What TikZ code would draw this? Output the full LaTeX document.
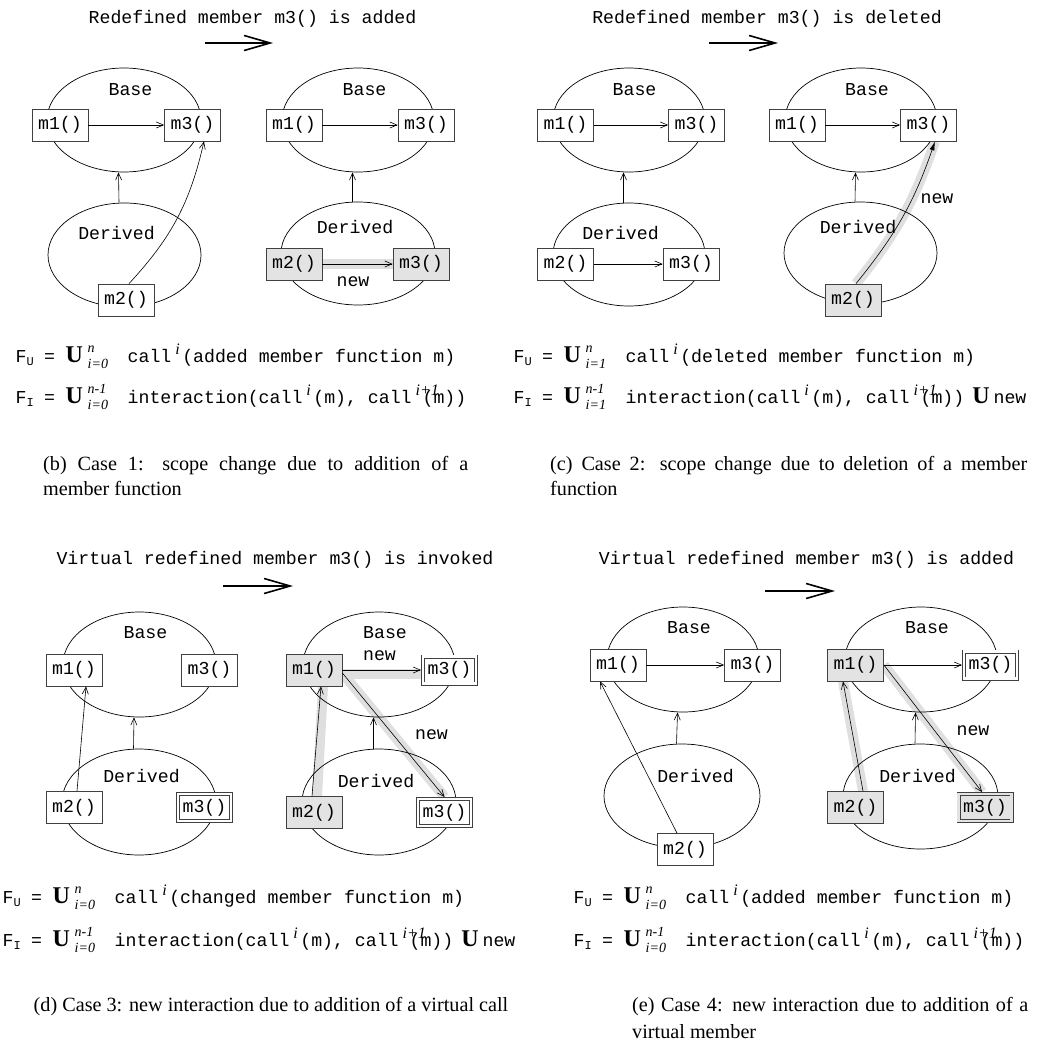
\documentclass[tikz,border=0pt]{standalone}
\usepackage{fontspec}
\setmainfont{Liberation Serif}
\setmonofont{Liberation Mono}
\usetikzlibrary{positioning, arrows.meta, shapes.geometric, backgrounds}

\newcommand{\mono}{\ttfamily\fontsize{18.2}{22}\selectfont}
\newcommand{\capfont}{\rmfamily\fontsize{20.2}{25}\selectfont}
\newcommand{\fsub}[1]{\raisebox{-3pt}{\fontsize{12}{12}\selectfont #1}}
\newcommand{\bigU}{{\rmfamily\bfseries\fontsize{24}{24}\selectfont U}}
\newcommand{\lims}[2]{\rlap{\raisebox{10pt}{\fontsize{14}{14}\selectfont\rmfamily\itshape #1}}\raisebox{-6pt}{\fontsize{14}{14}\selectfont\rmfamily\itshape #2}}
\newcommand{\callsup}[1]{\rlap{\hspace{4pt}\raisebox{8pt}{\fontsize{16}{16}\selectfont\rmfamily\itshape #1}}}
\newcommand{\fhead}[3]{\makebox[28.5pt][l]{F\fsub{#1}}\makebox[21.5pt][l]{=}\makebox[22pt][l]{\bigU}\makebox[40pt][l]{\lims{#2}{#3}}}

\tikzset{
	cls/.style={ellipse, draw, line width=0.7pt, inner sep=0pt},
	fn/.style={draw=black!75, fill=white, line width=0.8pt, minimum width=56pt, minimum height=32pt, inner sep=0pt, font=\mono},
	fnnew/.style={fn, fill=gray!22},
	vfn/.style={fn, double=white, double distance=2.4pt, minimum width=53pt, minimum height=27pt, outer sep=2pt},
	vfnnew/.style={vfn, fill=gray!22, double=gray!22},
	txt/.style={font=\mono, inner sep=0pt, anchor=base},
	fml/.style={font=\mono, inner sep=0pt, anchor=base west},
	captxt/.style={font=\capfont, inner sep=0pt, anchor=base west},
	calls/.style={-{Straight Barb[length=7pt, width=6pt]}, line width=0.6pt},
	newcall/.style={-{Latex[length=9pt, width=5pt]}, line width=0.6pt},
	hilite/.style={line width=10pt, gray!25},
	bigarrow/.style={-{Straight Barb[length=26pt, width=15pt]}, line width=1.6pt},
}

\begin{document}
\begin{tikzpicture}[x=1pt, y=-1pt]
	\useasboundingbox (0,0) rectangle (1064,1044);

	\node[txt] (ttlb) at (252.5,23) {Redefined member m3() is added};
	\coordinate (arbs) at (205,43);
	\coordinate (arbe) at (273,43);
	\draw[bigarrow] (arbs) -- (arbe);
	\node[cls, minimum width=154pt, minimum height=104pt] (blB) at (124,120) {};
	\node[txt] (blBt) at (130.5,95) {Base};
	\node[fn] (bl1) at (60,125) {m1()};
	\node[fn] (bl3) at (192.5,125) {m3()};
	\node[cls, minimum width=153pt, minimum height=104pt] (blD) at (124.5,255) {};
	\node[txt] (blDt) at (116.5,239) {Derived};
	\node[fn] (bl2) at (126,300) {m2()};
	\draw[calls] (bl1) -- (bl3);
	\draw[calls] ([xshift=-5.5pt]blD.north) -- ([xshift=-5.5pt]blB.south);
	\draw[calls] ([xshift=3pt]bl2.north) to[bend right=15] ([xshift=11.5pt]bl3.south);

	\node[cls, minimum width=152pt, minimum height=104pt] (brB) at (358,120) {};
	\node[txt] (brBt) at (364.5,95) {Base};
	\node[fn] (br1) at (294,125) {m1()};
	\node[fn] (br3) at (426,125) {m3()};
	\node[cls, minimum width=154pt, minimum height=103pt] (brD) at (358,253.5) {};
	\node[txt] (brDt) at (355,233) {Derived};
	\node[fnnew] (br2) at (294,264) {m2()};
	\node[fnnew] (br3d) at (421,264) {m3()};
	\node[txt] (brnew) at (353,286) {new};
	\begin{pgfonlayer}{background}
		\draw[hilite] (br2) -- (br3d);
	\end{pgfonlayer}
	\draw[calls] (br1) -- (br3);
	\draw[calls] ([xshift=-5.5pt]brD.north) -- ([xshift=-5.5pt]brB.south);
	\draw[calls] (br2) -- (br3d);

	\node[txt] (ttlc) at (767,23) {Redefined member m3() is deleted};
	\coordinate (arcs) at (709,43);
	\coordinate (arce) at (778,43);
	\draw[bigarrow] (arcs) -- (arce);
	\node[cls, minimum width=152pt, minimum height=104pt] (clB) at (629,120) {};
	\node[txt] (clBt) at (634.5,95) {Base};
	\node[fn] (cl1) at (565.5,125) {m1()};
	\node[fn] (cl3) at (696.5,125) {m3()};
	\node[cls, minimum width=152pt, minimum height=103pt] (clD) at (629,254.5) {};
	\node[txt] (clDt) at (620.5,239) {Derived};
	\node[fn] (cl2) at (565.5,264) {m2()};
	\node[fn] (cl3d) at (691,264) {m3()};
	\draw[calls] (cl1) -- (cl3);
	\draw[calls] ([xshift=-5.5pt]clD.north) -- ([xshift=-5.5pt]clB.south);
	\draw[calls] (cl2) -- (cl3d);

	\node[cls, minimum width=152pt, minimum height=104pt] (crB) at (861,120) {};
	\node[txt] (crBt) at (867,95) {Base};
	\node[fn] (cr1) at (797,125) {m1()};
	\node[fn] (cr3) at (928.5,125) {m3()};
	\node[cls, minimum width=153pt, minimum height=102pt] (crD) at (860.5,253) {};
	\node[txt] (crDt) at (858,233) {Derived};
	\node[fnnew] (cr2) at (853,300) {m2()};
	\node[txt] (crnew) at (937,203) {new};
	\begin{pgfonlayer}{background}
		\draw[hilite] ([xshift=3pt]cr2.north) to[bend right=10] ([xshift=6.5pt]cr3.south);
	\end{pgfonlayer}
	\draw[calls] (cr1) -- (cr3);
	\draw[calls] ([xshift=-5.5pt]crD.north) -- ([xshift=-5.5pt]crB.south);
	\draw[newcall] ([xshift=3pt]cr2.north) to[bend right=10] ([xshift=6.5pt]cr3.south);

	\node[fml] (fub) at (15.5,362) {\fhead{U}{n}{i=0}call\callsup{i} (added member function m)};
	\node[fml] (fib) at (15.5,403) {\fhead{I}{n-1}{i=0}interaction(call\callsup{i} (m), call\callsup{i+1} (m))};
	\node[fml] (fuc) at (513.5,362) {\fhead{U}{n}{i=1}call\callsup{i} (deleted member function m)};
	\node[fml] (fic) at (513.5,403) {\fhead{I}{n-1}{i=1}interaction(call\callsup{i} (m), call\callsup{i+1} (m))\hspace{8pt}\bigU\hspace{4pt}new};

	\node[captxt] (capb1) at (43,470) {\makebox[425pt][s]{(b) Case 1: scope change due to addition of a}};
	\node[captxt] (capb2) at (43,495) {member function};
	\node[captxt] (capc1) at (550,470) {\makebox[477pt][s]{(c) Case 2: scope change due to deletion of a member}};
	\node[captxt] (capc2) at (550,495) {function};

	\node[txt] (ttld) at (275,564) {Virtual redefined member m3() is invoked};
	\coordinate (ards) at (223,586);
	\coordinate (arde) at (293,586);
	\draw[bigarrow] (ards) -- (arde);
	\node[cls, minimum width=153pt, minimum height=105pt] (dlB) at (139.5,664.5) {};
	\node[txt] (dlBt) at (145.5,638) {Base};
	\node[fn] (dl1) at (74,670) {m1()};
	\node[fn] (dl3) at (209.5,670) {m3()};
	\node[cls, minimum width=154pt, minimum height=106pt] (dlD) at (139,802) {};
	\node[txt] (dlDt) at (141.5,782) {Derived};
	\node[fn] (dl2) at (74,807.5) {m2()};
	\node[vfn] (dl3d) at (204.5,807.5) {m3()};
	\draw[calls] ([xshift=-5.5pt]dlD.north) -- ([xshift=-5.5pt]dlB.south);
	\draw[calls] ([xshift=3pt]dl2.north) -- ([xshift=12pt]dl1.south);

	\node[cls, minimum width=152pt, minimum height=105pt] (drB) at (379,664.5) {};
	\node[txt] (drBt) at (385,638) {Base};
	\node[txt] (drnew1) at (379.5,660) {new};
	\node[fnnew] (dr1) at (314,670) {m1()};
	\node[vfn] (dr3) at (449.5,670) {m3()};
	\node[cls, minimum width=154pt, minimum height=106pt] (drD) at (379,802) {};
	\node[txt] (drDt) at (376,787) {Derived};
	\node[fnnew] (dr2) at (314,812.5) {m2()};
	\node[vfn] (dr3d) at (444.5,812.5) {m3()};
	\node[txt] (drnew2) at (431.5,739) {new};
	\begin{pgfonlayer}{background}
		\draw[hilite] ([yshift=-3.5pt]dr1.east) -- ([yshift=-3.5pt]dr3.west);
		\draw[hilite] ([xshift=3pt]dr2.north) -- ([xshift=9pt]dr1.south);
		\draw[hilite] ([yshift=-3pt]dr1.east) -- (dr3d.north);
	\end{pgfonlayer}
	\draw[calls] (dr1) -- (dr3);
	\draw[calls] ([xshift=-5.5pt]drD.north) -- ([xshift=-5.5pt]drB.south);
	\draw[calls] ([xshift=-2pt]dr2.north) -- ([xshift=7pt]dr1.south);
	\draw[calls] ([yshift=-3pt]dr1.east) -- (dr3d.north);

	\node[txt] (ttle) at (806.5,564) {Virtual redefined member m3() is added};
	\coordinate (ares) at (765,591);
	\coordinate (aree) at (835,591);
	\draw[bigarrow] (ares) -- (aree);
	\node[cls, minimum width=152pt, minimum height=105pt] (elB) at (683,659.5) {};
	\node[txt] (elBt) at (689,633) {Base};
	\node[fn] (el1) at (618,665) {m1()};
	\node[fn] (el3) at (752.5,665) {m3()};
	\node[cls, minimum width=156pt, minimum height=104pt] (elD) at (682,796) {};
	\node[txt] (elDt) at (695.5,782) {Derived};
	\node[fn] (el2) at (685,849.5) {m2()};
	\draw[calls] (el1) -- (el3);
	\draw[calls] ([xshift=-5.5pt]elD.north) -- ([xshift=-5.5pt]elB.south);
	\draw[calls] ([xshift=-8pt]el2.north) -- ([xshift=-18pt]el1.south);

	\node[cls, minimum width=152pt, minimum height=105pt] (erB) at (921,659.5) {};
	\node[txt] (erBt) at (927,633) {Base};
	\node[fnnew] (er1) at (855.5,665) {m1()};
	\node[vfn] (er3) at (990.5,665) {m3()};
	\node[cls, minimum width=155pt, minimum height=105pt] (erD) at (920.5,796.5) {};
	\node[txt] (erDt) at (917.5,782) {Derived};
	\node[fnnew] (er2) at (855.5,807.5) {m2()};
	\node[vfnnew] (er3d) at (985,807.5) {m3()};
	\node[txt] (ernew) at (973,735) {new};
	\begin{pgfonlayer}{background}
		\draw[hilite] ([xshift=7.5pt]er2.north) -- ([xshift=-12.5pt]er1.south);
		\draw[hilite] (er1.east) -- ([xshift=-3pt]er3d.north);
	\end{pgfonlayer}
	\draw[calls] (er1) -- (er3);
	\draw[calls] ([xshift=-5.5pt]erD.north) -- ([xshift=-5.5pt]erB.south);
	\draw[calls] ([xshift=7.5pt]er2.north) -- ([xshift=-12.5pt]er1.south);
	\draw[calls] (er1.east) -- ([xshift=-3pt]er3d.north);

	\node[fml] (fud) at (2.5,903) {\fhead{U}{n}{i=0}call\callsup{i} (changed member function m)};
	\node[fml] (fid) at (2.5,946) {\fhead{I}{n-1}{i=0}interaction(call\callsup{i} (m), call\callsup{i+1} (m))\hspace{8pt}\bigU\hspace{4pt}new};
	\node[fml] (fue) at (573.5,903) {\fhead{U}{n}{i=0}call\callsup{i} (added member function m)};
	\node[fml] (fie) at (573.5,946) {\fhead{I}{n-1}{i=0}interaction(call\callsup{i} (m), call\callsup{i+1} (m))};

	\node[captxt, anchor=base] (capd) at (271,1011) {(d) Case 3: new interaction due to addition of a virtual call};
	\node[captxt] (cape1) at (632,1011) {\makebox[396pt][s]{(e) Case 4: new interaction due to addition of a}};
	\node[captxt] (cape2) at (632,1038) {virtual member};
\end{tikzpicture}
\end{document}
